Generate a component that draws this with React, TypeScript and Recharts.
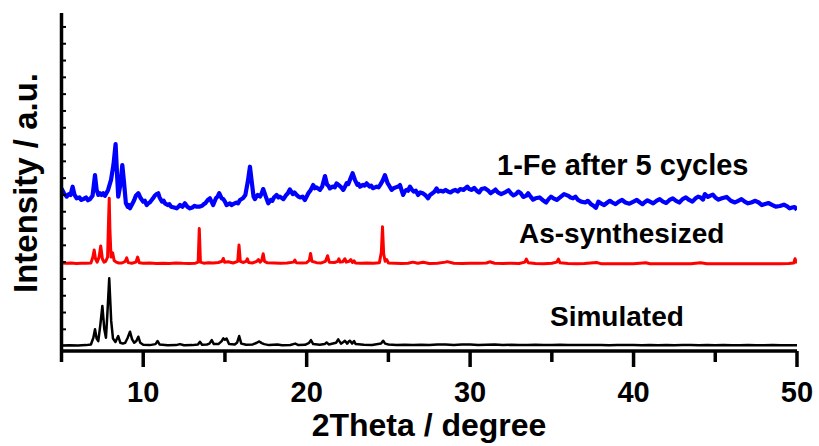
import React from 'react';
import { LineChart, Line, XAxis, YAxis, Customized } from 'recharts';

// 2Theta ticks (degree)
const xTicks = [5, 10, 15, 20, 25, 30, 35, 40, 45, 50];
const xMajor = [10, 20, 30, 40, 50];
// intensity ticks (a.u.)
const yTicks = [1, 2, 3, 4, 5, 6, 7, 8, 9, 10, 11, 12, 13, 14, 15, 16, 17, 18, 19];

const seriesLabels = ['1-Fe after 5 cycles', 'As-synthesized', 'Simulated'];

const simulated: [number, number][] = [
  [5.0, 0.04], [5.5, 0.05], [6.0, 0.04], [6.5, 0.06], [6.8, 0.1], [6.95, 0.5], [7.05, 1.0], [7.15, 0.45],
  [7.25, 0.3], [7.38, 1.3], [7.5, 2.39], [7.62, 1.0], [7.72, 0.5], [7.8, 1.8], [7.92, 4.04], [8.04, 1.5],
  [8.15, 0.45], [8.3, 0.25], [8.47, 0.6], [8.6, 0.2], [8.75, 0.15], [8.9, 0.2], [9.05, 0.5], [9.19, 0.86],
  [9.32, 0.4], [9.45, 0.2], [9.58, 0.3], [9.7, 0.56], [9.82, 0.2], [10.0, 0.08], [10.4, 0.06], [10.75, 0.12],
  [10.88, 0.3], [11.0, 0.1], [11.5, 0.05], [12.0, 0.06], [12.25, 0.12], [12.5, 0.05], [13.0, 0.06],
  [13.35, 0.1], [13.47, 0.26], [13.6, 0.08], [13.9, 0.1], [14.05, 0.15], [14.19, 0.36], [14.32, 0.12],
  [14.6, 0.12], [14.8, 0.3], [14.9, 0.46], [15.0, 0.38], [15.1, 0.45], [15.25, 0.12], [15.6, 0.1],
  [15.75, 0.22], [15.87, 0.6], [16.0, 0.15], [16.3, 0.08], [16.7, 0.1], [16.95, 0.2], [17.1, 0.28],
  [17.25, 0.18], [17.4, 0.12], [17.7, 0.06], [18.2, 0.1], [18.5, 0.05], [19.0, 0.07], [19.3, 0.15],
  [19.5, 0.06], [19.9, 0.08], [20.15, 0.2], [20.26, 0.36], [20.4, 0.12], [20.8, 0.08], [21.1, 0.12],
  [21.22, 0.22], [21.35, 0.1], [21.8, 0.2], [21.93, 0.4], [22.1, 0.15], [22.25, 0.25], [22.34, 0.32],
  [22.48, 0.15], [22.6, 0.3], [22.65, 0.32], [22.78, 0.15], [22.9, 0.3], [23.0, 0.12], [23.5, 0.08],
  [24.0, 0.07], [24.55, 0.15], [24.68, 0.32], [24.8, 0.15], [25.0, 0.1], [25.5, 0.07], [26.0, 0.08],
  [26.5, 0.06], [27.0, 0.08], [27.5, 0.06], [28.0, 0.09], [28.5, 0.1], [29.0, 0.07], [29.5, 0.09],
  [30.0, 0.1], [30.5, 0.07], [31.0, 0.08], [31.5, 0.1], [32.0, 0.06], [32.5, 0.08], [33.0, 0.07],
  [33.5, 0.06], [34.0, 0.08], [34.5, 0.06], [35.0, 0.07], [35.5, 0.08], [36.0, 0.06], [36.5, 0.07],
  [37.0, 0.06], [37.5, 0.07], [38.0, 0.06], [38.5, 0.05], [39.0, 0.06], [39.5, 0.07], [40.0, 0.06],
  [40.5, 0.05], [41.0, 0.06], [41.5, 0.05], [42.0, 0.06], [42.5, 0.05], [43.0, 0.06], [43.5, 0.07],
  [44.0, 0.05], [44.5, 0.06], [45.0, 0.05], [45.5, 0.06], [46.0, 0.05], [46.5, 0.05], [47.0, 0.06],
  [47.5, 0.05], [48.0, 0.05], [48.5, 0.06], [49.0, 0.05], [49.5, 0.05], [50.0, 0.05],
];

const asSynthesized: [number, number][] = [
  [5.0, 4.95], [5.3, 4.93], [5.6, 4.95], [5.9, 4.92], [6.2, 4.94], [6.5, 4.93], [6.8, 4.95], [6.92, 5.3],
  [7.0, 5.72], [7.08, 5.2], [7.18, 5.0], [7.3, 5.3], [7.4, 5.96], [7.5, 5.2], [7.6, 5.0], [7.7, 5.05],
  [7.82, 5.3], [7.88, 7.5], [7.92, 8.8], [7.96, 7.0], [8.03, 5.3], [8.13, 5.55], [8.22, 5.1], [8.35, 5.0],
  [8.5, 4.95], [8.7, 4.95], [8.9, 5.05], [8.99, 5.25], [9.08, 4.97], [9.3, 4.93], [9.55, 5.0], [9.66, 5.3],
  [9.76, 4.96], [10.0, 4.93], [10.4, 4.95], [10.8, 4.92], [11.2, 4.94], [11.6, 4.92], [12.0, 4.95],
  [12.4, 4.93], [12.8, 4.92], [13.2, 4.94], [13.36, 5.0], [13.43, 7.0], [13.5, 5.0], [13.7, 4.94],
  [14.0, 4.97], [14.3, 4.95], [14.6, 4.98], [14.82, 5.05], [14.9, 5.22], [14.98, 5.0], [15.2, 5.02],
  [15.5, 4.95], [15.78, 5.05], [15.86, 6.02], [15.94, 5.05], [16.1, 4.98], [16.3, 5.05], [16.37, 5.2],
  [16.45, 4.98], [16.7, 4.95], [16.95, 5.05], [17.05, 5.15], [17.15, 5.0], [17.25, 5.1], [17.34, 5.5],
  [17.42, 5.05], [17.6, 4.96], [18.0, 4.95], [18.4, 4.93], [18.8, 4.95], [19.2, 5.0], [19.28, 5.12],
  [19.36, 4.97], [19.7, 4.95], [20.0, 4.97], [20.16, 5.1], [20.24, 5.52], [20.32, 5.05], [20.6, 4.97],
  [20.9, 4.95], [21.15, 5.05], [21.28, 5.38], [21.38, 5.0], [21.7, 4.98], [21.9, 5.05], [21.97, 5.2],
  [22.05, 5.0], [22.2, 5.02], [22.34, 5.2], [22.42, 5.0], [22.6, 5.05], [22.7, 5.15], [22.8, 4.98],
  [22.9, 5.08], [22.98, 4.95], [23.3, 4.94], [23.7, 4.95], [24.1, 4.93], [24.45, 4.97], [24.57, 5.6],
  [24.64, 7.1], [24.71, 5.5], [24.8, 5.05], [24.9, 5.15], [25.0, 4.95], [25.4, 4.94], [25.8, 4.92],
  [26.2, 4.93], [26.5, 5.0], [26.8, 4.93], [27.13, 4.99], [27.5, 4.92], [28.0, 4.94], [28.5, 5.0],
  [28.6, 5.03], [29.0, 4.93], [29.5, 4.92], [30.0, 4.94], [30.5, 4.93], [31.0, 4.95], [31.2, 5.02],
  [31.5, 4.93], [32.0, 4.92], [32.5, 4.93], [33.0, 4.92], [33.35, 5.0], [33.44, 5.18], [33.55, 4.97],
  [34.0, 4.92], [34.5, 4.91], [35.0, 4.93], [35.3, 5.0], [35.4, 5.18], [35.5, 4.96], [36.0, 4.92],
  [36.5, 4.91], [37.0, 4.92], [37.73, 4.98], [38.0, 4.91], [38.5, 4.9], [39.0, 4.91], [39.5, 4.9],
  [40.0, 4.91], [40.75, 4.96], [41.0, 4.9], [41.5, 4.91], [42.0, 4.9], [42.5, 4.91], [43.0, 4.9],
  [43.5, 4.91], [44.1, 4.96], [44.5, 4.9], [45.0, 4.91], [45.5, 4.9], [46.0, 4.91], [46.5, 4.9],
  [47.0, 4.91], [47.5, 4.9], [48.0, 4.91], [48.5, 4.9], [49.0, 4.91], [49.5, 4.92], [49.8, 4.95],
  [49.88, 5.2], [49.95, 5.0], [50.0, 4.97],
];

const afterCycles: [number, number][] = [
  [5.0, 9.39], [5.15, 9.1], [5.32, 8.9], [5.45, 9.05], [5.55, 9.0], [5.68, 9.49], [5.8, 9.0], [5.93, 8.8],
  [6.1, 8.85], [6.2, 8.7], [6.33, 8.75], [6.5, 8.85], [6.62, 8.68], [6.74, 8.75], [6.9, 8.95], [7.05, 10.18],
  [7.15, 9.3], [7.25, 9.0], [7.35, 9.1], [7.45, 9.0], [7.55, 9.1], [7.66, 8.95], [7.85, 9.3], [8.03, 9.9],
  [8.18, 10.8], [8.31, 12.03], [8.4, 10.2], [8.47, 8.9], [8.6, 9.6], [8.72, 10.78], [8.82, 9.8],
  [8.94, 8.5], [9.05, 8.3], [9.12, 8.4], [9.19, 8.2], [9.35, 8.5], [9.45, 8.7], [9.55, 8.95], [9.7, 9.1],
  [9.85, 8.8], [10.0, 8.6], [10.1, 8.65], [10.21, 8.4], [10.3, 8.5], [10.4, 8.55], [10.6, 8.8],
  [10.7, 8.95], [10.82, 9.05], [10.92, 9.1], [11.0, 8.85], [11.15, 8.6], [11.25, 8.65], [11.33, 8.5],
  [11.5, 8.4], [11.6, 8.45], [11.7, 8.3], [11.9, 8.25], [12.05, 8.2], [12.15, 8.3], [12.25, 8.4],
  [12.4, 8.3], [12.55, 8.5], [12.7, 8.3], [12.86, 8.2], [13.0, 8.25], [13.15, 8.35], [13.27, 8.3],
  [13.43, 8.3], [13.6, 8.35], [13.7, 8.45], [13.8, 8.5], [13.95, 8.7], [14.08, 8.8], [14.18, 8.6],
  [14.28, 8.4], [14.45, 8.8], [14.55, 8.9], [14.65, 9.1], [14.8, 8.8], [14.9, 8.75], [15.0, 8.6],
  [15.1, 8.4], [15.3, 8.5], [15.4, 8.4], [15.5, 8.45], [15.7, 8.55], [15.8, 8.5], [15.92, 8.7], [16.1, 8.8],
  [16.25, 9.0], [16.4, 9.8], [16.53, 10.68], [16.65, 9.7], [16.75, 8.9], [16.83, 8.75], [16.92, 8.9],
  [17.0, 9.0], [17.15, 8.9], [17.25, 9.1], [17.34, 9.35], [17.5, 8.9], [17.65, 8.5], [17.8, 8.7],
  [17.9, 8.65], [18.0, 8.85], [18.16, 9.0], [18.26, 8.85], [18.36, 8.9], [18.57, 8.75], [18.65, 8.85],
  [18.75, 9.0], [18.85, 9.1], [18.97, 9.33], [19.15, 9.05], [19.25, 9.15], [19.38, 9.0], [19.5, 8.9],
  [19.6, 8.85], [19.75, 8.9], [19.89, 8.7], [20.0, 8.9], [20.1, 9.1], [20.25, 9.3], [20.4, 9.59],
  [20.5, 9.4], [20.6, 9.45], [20.81, 9.3], [20.95, 9.5], [21.12, 10.12], [21.25, 9.6], [21.33, 9.55],
  [21.42, 9.39], [21.6, 9.5], [21.72, 9.45], [21.83, 9.69], [22.0, 9.55], [22.12, 9.45], [22.24, 9.3],
  [22.35, 9.5], [22.45, 9.7], [22.55, 9.65], [22.65, 9.9], [22.81, 10.29], [22.95, 9.9], [23.1, 9.6],
  [23.18, 9.65], [23.26, 9.49], [23.45, 9.6], [23.55, 9.55], [23.67, 9.69], [23.85, 9.5], [23.95, 9.55],
  [24.05, 9.4], [24.18, 9.45], [24.28, 9.49], [24.4, 9.45], [24.5, 9.6], [24.65, 9.85], [24.79, 10.18],
  [24.95, 9.7], [25.05, 9.55], [25.2, 9.3], [25.32, 9.4], [25.45, 9.45], [25.6, 9.5], [25.71, 9.59],
  [25.8, 9.3], [25.9, 9.0], [26.0, 9.2], [26.1, 9.3], [26.2, 9.25], [26.32, 9.49], [26.45, 9.3],
  [26.55, 9.2], [26.68, 9.25], [26.82, 9.0], [26.95, 9.15], [27.1, 9.1], [27.25, 9.0], [27.43, 8.8],
  [27.55, 9.0], [27.7, 9.1], [27.82, 9.2], [27.95, 9.39], [28.05, 9.2], [28.2, 9.25], [28.35, 9.2],
  [28.5, 9.3], [28.65, 9.2], [28.8, 9.15], [28.95, 9.25], [29.1, 9.3], [29.25, 9.2], [29.4, 9.35],
  [29.6, 9.3], [29.83, 9.49], [29.95, 9.35], [30.1, 9.3], [30.25, 9.42], [30.4, 9.25], [30.55, 9.15],
  [30.7, 9.35], [30.9, 9.4], [31.1, 9.27], [31.25, 9.1], [31.4, 9.2], [31.55, 9.32], [31.7, 9.15],
  [31.9, 9.05], [32.17, 9.17], [32.35, 9.28], [32.5, 9.1], [32.65, 8.98], [32.8, 9.05], [32.95, 9.2],
  [33.1, 9.1], [33.25, 8.88], [33.44, 8.96], [33.55, 9.1], [33.7, 8.9], [33.85, 8.72], [34.0, 8.8],
  [34.25, 8.85], [34.5, 8.65], [34.65, 8.55], [34.8, 8.75], [34.95, 8.9], [35.1, 8.8], [35.3, 8.7],
  [35.5, 8.85], [35.75, 9.05], [35.98, 8.96], [36.15, 8.85], [36.3, 8.8], [36.45, 8.9], [36.6, 8.7],
  [36.8, 8.6], [37.05, 8.55], [37.2, 8.65], [37.4, 8.45], [37.55, 8.35], [37.7, 8.24], [37.85, 8.6],
  [38.0, 8.5], [38.2, 8.4], [38.4, 8.55], [38.55, 8.65], [38.7, 8.55], [38.9, 8.45], [39.1, 8.6],
  [39.3, 8.7], [39.5, 8.55], [39.75, 8.48], [40.0, 8.6], [40.2, 8.7], [40.4, 8.55], [40.55, 8.45],
  [40.66, 8.55], [40.85, 8.68], [41.0, 8.6], [41.2, 8.5], [41.4, 8.65], [41.6, 8.75], [41.8, 8.6],
  [42.0, 8.52], [42.2, 8.7], [42.4, 8.8], [42.6, 8.65], [42.8, 8.55], [43.0, 8.75], [43.2, 8.85],
  [43.4, 8.7], [43.6, 8.6], [43.8, 8.8], [43.95, 8.9], [44.1, 8.85], [44.25, 8.72], [44.36, 9.05],
  [44.55, 8.88], [44.7, 8.96], [44.85, 9.02], [45.0, 8.85], [45.2, 8.72], [45.4, 8.8], [45.7, 8.88],
  [45.95, 8.65], [46.2, 8.55], [46.4, 8.65], [46.6, 8.75], [46.8, 8.6], [47.0, 8.5], [47.2, 8.55],
  [47.45, 8.65], [47.66, 8.55], [47.85, 8.4], [48.0, 8.45], [48.25, 8.52], [48.5, 8.4], [48.7, 8.3],
  [48.95, 8.34], [49.2, 8.42], [49.4, 8.32], [49.55, 8.2], [49.7, 8.25], [49.85, 8.28], [50.0, 8.12],
];

const toRows = (pts: [number, number][]) => pts.map(([x, y]) => ({ x, y }));

const FONT = 'Arial, "Liberation Sans", Helvetica, sans-serif';

const XTick = (props: any) => {
  const { x, y, payload } = props;
  const v = payload.value;
  const major = xMajor.includes(v);
  return (
    <g>
      <line x1={x} x2={x} y1={y} y2={y + (major ? 16 : 11)} stroke="#000" strokeWidth={3.5} />
      {major && (
        <text x={x} y={y + 50.5} textAnchor="middle" fontFamily={FONT} fontWeight="bold" fontSize={29} fill="#000">
          {v}
        </text>
      )}
    </g>
  );
};

const YTick = (props: any) => {
  const { x, y } = props;
  return <line x1={x} x2={x + 4.5} y1={y} y2={y} stroke="#000" strokeWidth={2} />;
};

const Annotations = () => (
  <g fontFamily={FONT} fontWeight="bold" fill="#000">
    <text x={497} y={175} fontSize={29}>{seriesLabels[0]}</text>
    <text x={519} y={243} fontSize={28}>{seriesLabels[1]}</text>
    <text x={550} y={326} fontSize={28}>{seriesLabels[2]}</text>
    <text x={429} y={436} fontSize={32} textAnchor="middle">2Theta / degree</text>
    <text transform="translate(37,183) rotate(-90)" fontSize={33} textAnchor="middle">Intensity / a.u.</text>
  </g>
);

export default function App() {
  return (
    <div style={{ position: 'absolute', left: 0, top: 0, background: '#fff' }}>
      <LineChart width={819} height={446} margin={{ top: 13, right: 22, bottom: 0, left: 0 }}>
        <XAxis
          type="number"
          dataKey="x"
          domain={[5, 50]}
          ticks={xTicks}
          interval={0}
          allowDataOverflow
          height={95}
          tickSize={0}
          tickMargin={0}
          tickLine={false}
          axisLine={{ stroke: '#000', strokeWidth: 3.5 }}
          tick={<XTick />}
        />
        <YAxis
          type="number"
          dataKey="y"
          domain={[-0.29, 19.83]}
          ticks={yTicks}
          interval={0}
          allowDataOverflow
          width={61.5}
          tickSize={0}
          tickMargin={0}
          tickLine={false}
          axisLine={{ stroke: '#000', strokeWidth: 3.5 }}
          tick={<YTick />}
        />
        <Line data={toRows(afterCycles)} dataKey="y" type="linear" stroke="#0000ff" strokeWidth={4.2}
          dot={false} isAnimationActive={false} strokeLinejoin="round" />
        <Line data={toRows(asSynthesized)} dataKey="y" type="linear" stroke="#ff0000" strokeWidth={3}
          dot={false} isAnimationActive={false} strokeLinejoin="round" />
        <Line data={toRows(simulated)} dataKey="y" type="linear" stroke="#000000" strokeWidth={2.5}
          dot={false} isAnimationActive={false} strokeLinejoin="round" />
        <Customized component={<Annotations />} />
      </LineChart>
    </div>
  );
}
